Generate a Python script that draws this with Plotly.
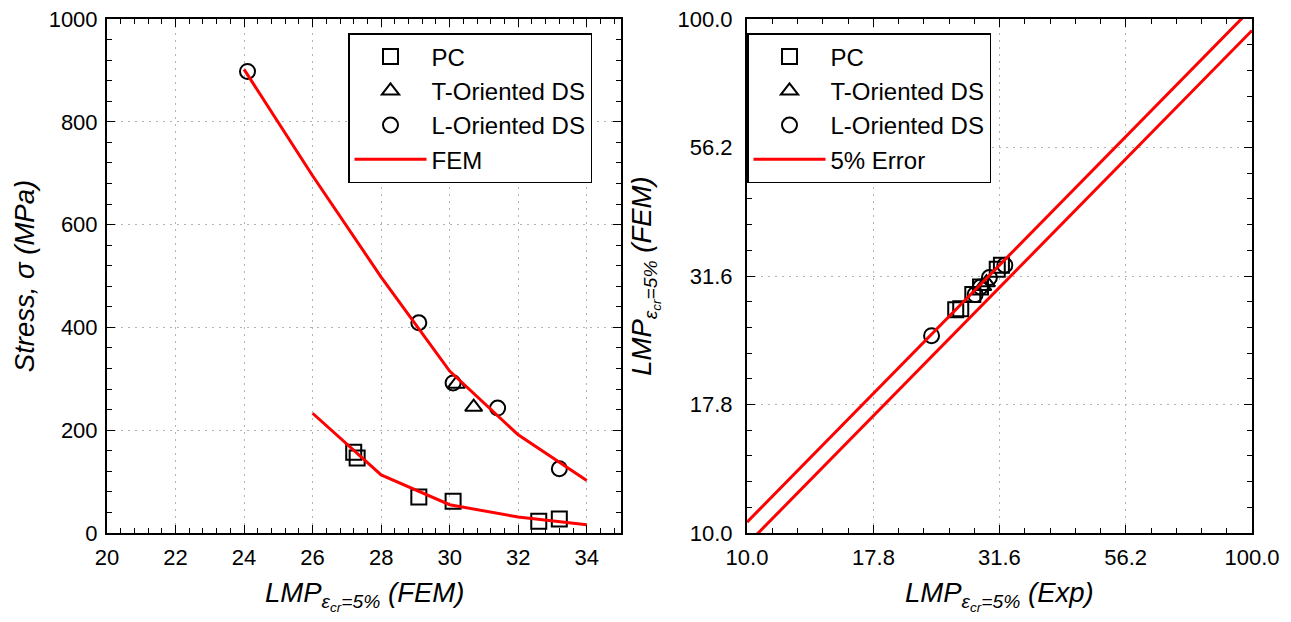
import numpy as np
import plotly.graph_objects as go

# ---------------- data ----------------
# Left panel: Stress vs LMP (FEM)
pc_lmp = [27.2, 27.3, 29.1, 30.1, 32.6, 33.2]
pc_stress = [157, 146, 70, 62, 23, 27]
t_lmp = [30.2, 30.7]
t_stress = [290, 245]
l_lmp = [24.1, 29.1, 30.1, 31.4, 33.2]
l_stress = [898, 409, 292, 243, 125]
fem_hi_lmp = [24.0, 26.0, 28.0, 30.0, 32.0, 34.0]
fem_hi_stress = [902, 695, 498, 315, 191, 102]
fem_lo_lmp = [26.0, 28.0, 30.0, 32.0, 34.0]
fem_lo_stress = [233, 113, 55, 31, 16]

# Right panel: LMP (FEM) vs LMP (Exp)
pc_exp = [25.9, 26.5, 28.0, 29.0, 31.3, 31.9]
pc_fem = [27.2, 27.3, 29.1, 30.1, 32.6, 33.2]
t_exp = [29.3, 29.8]
t_fem = [30.2, 30.7]
l_exp = [23.2, 28.3, 29.0, 30.2, 32.4]
l_fem = [24.2, 29.1, 30.1, 31.4, 33.2]
err_x = [10.0, 100.0]
err_factors = [1.05, 0.95]

left_xticks = [20, 22, 24, 26, 28, 30, 32, 34]
left_yticks = [0, 200, 400, 600, 800, 1000]
log_ticks = [10.0, 17.8, 31.6, 56.2, 100.0]
log_ticktext = ["10.0", "17.8", "31.6", "56.2", "100.0"]

# ---------------- style ----------------
FONT = "Arial, Liberation Sans, sans-serif"
OFF = 8                      # default page margin of the html body
W, H = 1291 - 2 * OFF, 622 - 2 * OFF


def px_x(p):
    return (p - OFF) / W


def px_y(p):
    return (H - (p - OFF)) / H


mk = dict(color="black", size=15, line=dict(color="black", width=2))
RED = "#ff0000"

fig = go.Figure()

# left panel traces
fig.add_trace(go.Scatter(x=pc_lmp, y=pc_stress, mode="markers", name="PC",
                         marker=dict(symbol="square-open", **mk), xaxis="x", yaxis="y", legend="legend"))
fig.add_trace(go.Scatter(x=t_lmp, y=t_stress, mode="markers", name="T-Oriented DS",
                         marker=dict(symbol="triangle-up-open", **mk), xaxis="x", yaxis="y", legend="legend"))
fig.add_trace(go.Scatter(x=l_lmp, y=l_stress, mode="markers", name="L-Oriented DS",
                         marker=dict(symbol="circle-open", **mk), xaxis="x", yaxis="y", legend="legend"))
fig.add_trace(go.Scatter(x=fem_hi_lmp, y=fem_hi_stress, mode="lines", name="FEM",
                         line=dict(color=RED, width=3), xaxis="x", yaxis="y", legend="legend"))
fig.add_trace(go.Scatter(x=fem_lo_lmp, y=fem_lo_stress, mode="lines", name="FEM", showlegend=False,
                         line=dict(color=RED, width=3), xaxis="x", yaxis="y"))

# right panel traces
fig.add_trace(go.Scatter(x=pc_exp, y=pc_fem, mode="markers", name="PC",
                         marker=dict(symbol="square-open", **mk), xaxis="x2", yaxis="y2", legend="legend2"))
fig.add_trace(go.Scatter(x=t_exp, y=t_fem, mode="markers", name="T-Oriented DS",
                         marker=dict(symbol="triangle-up-open", **mk), xaxis="x2", yaxis="y2", legend="legend2"))
fig.add_trace(go.Scatter(x=l_exp, y=l_fem, mode="markers", name="L-Oriented DS",
                         marker=dict(symbol="circle-open", **mk), xaxis="x2", yaxis="y2", legend="legend2"))
for i, f in enumerate(err_factors):
    fig.add_trace(go.Scatter(x=err_x, y=[v * f for v in err_x], mode="lines", name="5% Error",
                             showlegend=(i == 0), line=dict(color=RED, width=3),
                             xaxis="x2", yaxis="y2", legend="legend2"))

# domains
xd1 = [px_x(107), px_x(621)]
xd2 = [px_x(747), px_x(1252)]
yd = [px_y(533), px_y(19)]

tickfont = dict(family=FONT, size=22, color="black")
titlefont = dict(family=FONT, size=27.5, color="black")
common = dict(showline=True, linecolor="black", linewidth=2, mirror="ticks",
              ticks="inside", ticklen=8, tickwidth=1.2, tickcolor="black",
              showgrid=True, gridcolor="#b4b4b4", griddash="2px,5px", gridwidth=1,
              zeroline=False, tickfont=tickfont, automargin=False,
              ticklabeloverflow="allow")

sub = "<i>LMP<sub>ε<sub>cr</sub>=5%</sub> (FEM)</i>"
sub_exp = "<i>LMP<sub>ε<sub>cr</sub>=5%</sub> (Exp)</i>"

log_minor = [10 ** (1 + k / 20) for k in range(21)]
minor_lin_x = dict(dtick=0.4, ticks="inside", ticklen=5, tickcolor="black", tickwidth=1.2, showgrid=False)
minor_lin_y = dict(dtick=40, ticks="inside", ticklen=5, tickcolor="black", tickwidth=1.2, showgrid=False)
minor_log = dict(tickvals=log_minor, ticks="inside", ticklen=5, tickcolor="black", tickwidth=1.2, showgrid=False)

legend_common = dict(xanchor="left", yanchor="top", bgcolor="white", bordercolor="black",
                     borderwidth=1.5, font=dict(family=FONT, size=24, color="black"),
                     itemwidth=72, tracegroupgap=0)

fig.update_layout(
    width=W, height=H, paper_bgcolor="white", plot_bgcolor="white",
    margin=dict(l=0, r=0, t=0, b=0),
    font=dict(family=FONT, color="black"),
    xaxis=dict(domain=xd1, range=[20, 35], tickvals=left_xticks, anchor="y",
               ticklabelstandoff=4, minor=minor_lin_x, **common),
    yaxis=dict(domain=yd, range=[0, 1000], tickvals=left_yticks, anchor="x",
               ticklabelstandoff=3,
               title=dict(text="<i>Stress, σ (MPa)</i>", font=titlefont, standoff=6),
               minor=minor_lin_y, **common),
    xaxis2=dict(domain=xd2, type="log", range=[1, 2], tickvals=log_ticks, ticktext=log_ticktext,
                anchor="y2", ticklabelstandoff=4, minor=minor_log, **common),
    yaxis2=dict(domain=yd, type="log", range=[1, 2], tickvals=log_ticks, ticktext=log_ticktext,
                anchor="x2", ticklabelstandoff=8,
                title=dict(text=sub, font=titlefont, standoff=18),
                minor=minor_log, **common),
    legend=dict(x=px_x(348), y=px_y(33), **legend_common),
    legend2=dict(x=px_x(747), y=px_y(33), **legend_common),
)

# x-axis titles as annotations, sitting as low as the page allows without clipping
for xref, txt in (("x domain", sub), ("x2 domain", sub_exp)):
    fig.add_annotation(text=txt, xref=xref, x=0.5, yref="paper", y=px_y(596),
                       xanchor="center", yanchor="middle", showarrow=False, font=titlefont)

fig.write_html("out.html")
